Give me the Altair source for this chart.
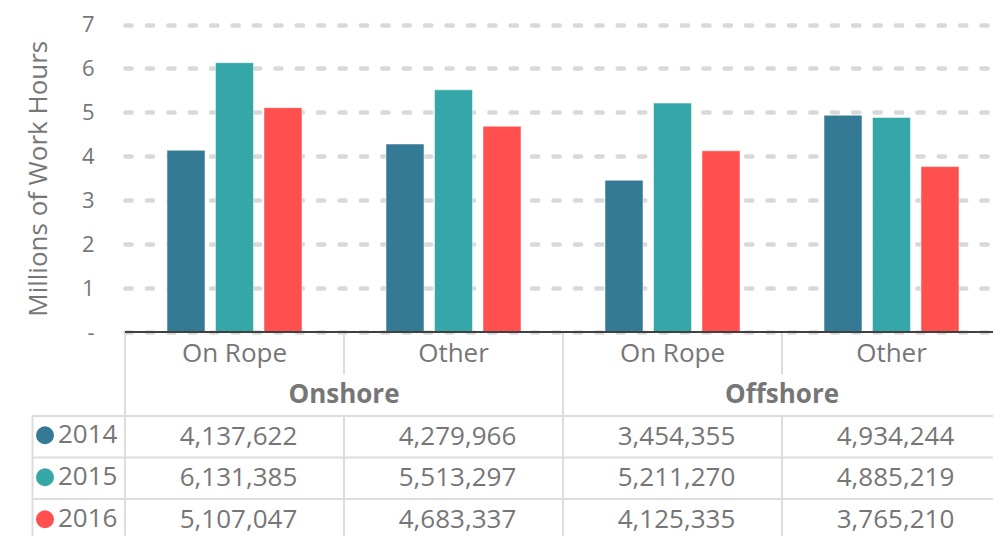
import altair as alt
import pandas as pd

# ---------------- data ----------------
years = ["2014", "2015", "2016"]
groups = ["Onshore", "Offshore"]
subcats = ["On Rope", "Other"]
hours_2014 = [4137622, 4279966, 3454355, 4934244]
hours_2015 = [6131385, 5513297, 5211270, 4885219]
hours_2016 = [5107047, 4683337, 4125335, 3765210]
y_ticks = [0, 1, 2, 3, 4, 5, 6, 7]
colors = ["#357A94", "#36A7A9", "#FF4F4F"]

# ---------------- derived tables ----------------
keys = [f"{g}|{s}" for g in groups for s in subcats]
series = dict(zip(years, [hours_2014, hours_2015, hours_2016]))
rows = ["cat", "group"] + years

bars_df = pd.DataFrame([
    {"key": k, "year": y, "hours": vals[i], "millions": vals[i] / 1e6}
    for y, vals in series.items() for i, k in enumerate(keys)
])
cat_df = pd.DataFrame([{"key": k, "label": k.split("|")[1], "row": "cat"} for k in keys])
group_df = pd.DataFrame([{"key": f"{g}|{subcats[0]}", "label": g, "row": "group"} for g in groups])
val_df = bars_df.assign(row=bars_df["year"])

vr = []
for g in groups:
    for j, s in enumerate(subcats):
        k = f"{g}|{s}"
        if j == 0:
            vr.append({"key": k, "r1": "cat", "r2": years[-1]})
        else:
            vr.append({"key": k, "r1": "cat", "r2": "cat"})
            vr.append({"key": k, "r1": years[0], "r2": years[-1]})
vr_df = pd.DataFrame(vr)
hr_df = pd.DataFrame({"row": years})
lb_df = pd.DataFrame({"r1": [years[0]], "r2": [years[-1]]})

# ---------------- layout / style ----------------
W, H = 868, 528          # visible plot (page is cropped at the right edge)
BAND_SPAN = 876          # full width of the four category bands
FONT = "Open Sans"
GRAY = "#767676"
LINE = "#dcdcdc"

xs = alt.Scale(type="band", domain=keys, range=[0, BAND_SPAN], paddingInner=0, paddingOuter=0)
ys = alt.Scale(domain=[0, 7], range=[324, 16.5], nice=False, zero=True)
rs = alt.Scale(type="band", domain=rows, range=[325, 532.5], paddingInner=0, paddingOuter=0)
fs = alt.Scale(domain=[0, 1], range=[-92.5, BAND_SPAN], nice=False, zero=False)

bars = alt.Chart(bars_df).mark_bar(stroke="white", strokeWidth=1, strokeOpacity=0.5).encode(
    x=alt.X("key:N", scale=xs, axis=None),
    xOffset=alt.XOffset("year:N", scale=alt.Scale(domain=years, paddingInner=0.216, paddingOuter=0.866)),
    y=alt.Y("millions:Q", scale=ys, axis=alt.Axis(
        values=y_ticks, title="Millions of Work Hours",
        grid=True, gridDash=[6.2, 15.2], gridCap="round", gridWidth=4.5, gridColor="#d9d9d9",
        domain=False, ticks=False,
        labelFont=FONT, labelFontSize=22, labelColor=GRAY, labelPadding=31,
        labelExpr="datum.value == 0 ? '-\u00a0\u00a0' : datum.label",
        titleFont=FONT, titleFontSize=26, titleFontWeight="normal", titleColor=GRAY, titlePadding=30)),
    color=alt.Color("year:N", scale=alt.Scale(domain=years, range=colors), legend=alt.Legend(
        orient="none", legendX=-93, legendY=406.5, title=None,
        symbolType="circle", symbolSize=324, symbolStrokeWidth=0, symbolOpacity=1,
        labelFont=FONT, labelFontSize=26, labelColor=GRAY, labelOffset=0,
        padding=0, clipHeight=41.5, rowPadding=0, symbolOffset=0)),
)

baseline = alt.Chart(pd.DataFrame({"zero": [0]})).mark_rule(color="#404040", strokeWidth=2).encode(
    y=alt.Y("zero:Q", scale=ys, axis=None)
)

hrules = alt.Chart(hr_df).mark_rule(color=LINE, strokeWidth=2).encode(
    y=alt.Y("row:N", scale=rs, bandPosition=0, axis=None),
    x=alt.XDatum(0, scale=fs, type="quantitative", axis=None),
    x2=alt.X2Datum(1),
)

vrules = alt.Chart(vr_df).mark_rule(color=LINE, strokeWidth=2).encode(
    x=alt.X("key:N", scale=xs, bandPosition=0, axis=None),
    y=alt.Y("r1:N", scale=rs, bandPosition=0, axis=None),
    y2=alt.Y2("r2:N", bandPosition=1),
)

lborder = alt.Chart(lb_df).mark_rule(color=LINE, strokeWidth=2).encode(
    x=alt.XDatum(0, scale=fs, type="quantitative", axis=None),
    y=alt.Y("r1:N", scale=rs, bandPosition=0, axis=None),
    y2=alt.Y2("r2:N", bandPosition=1),
)

cat_text = alt.Chart(cat_df).mark_text(font=FONT, fontSize=26, color=GRAY).encode(
    x=alt.X("key:N", scale=xs, axis=None),
    y=alt.Y("row:N", scale=rs, axis=None),
    text="label:N",
)

group_text = alt.Chart(group_df).mark_text(font=FONT, fontSize=26, fontWeight="bold", color=GRAY).encode(
    x=alt.X("key:N", scale=xs, bandPosition=1, axis=None),
    y=alt.Y("row:N", scale=rs, axis=None),
    text="label:N",
)

val_text = alt.Chart(val_df).mark_text(font=FONT, fontSize=26, color=GRAY, dx=4).encode(
    x=alt.X("key:N", scale=xs, axis=None),
    y=alt.Y("row:N", scale=rs, axis=None),
    text=alt.Text("hours:Q", format=","),
)

chart = alt.layer(
    bars, baseline, hrules, vrules, lborder, cat_text, group_text, val_text
).resolve_scale(
    x="independent", y="independent"
).properties(
    width=W, height=H,
    autosize=alt.AutoSizeParams(type="none"),
    padding={"left": 117, "top": 0, "right": 0, "bottom": 0},
).configure_view(strokeWidth=0)

chart.save("out.html", embed_options={"renderer": "svg", "actions": False})
